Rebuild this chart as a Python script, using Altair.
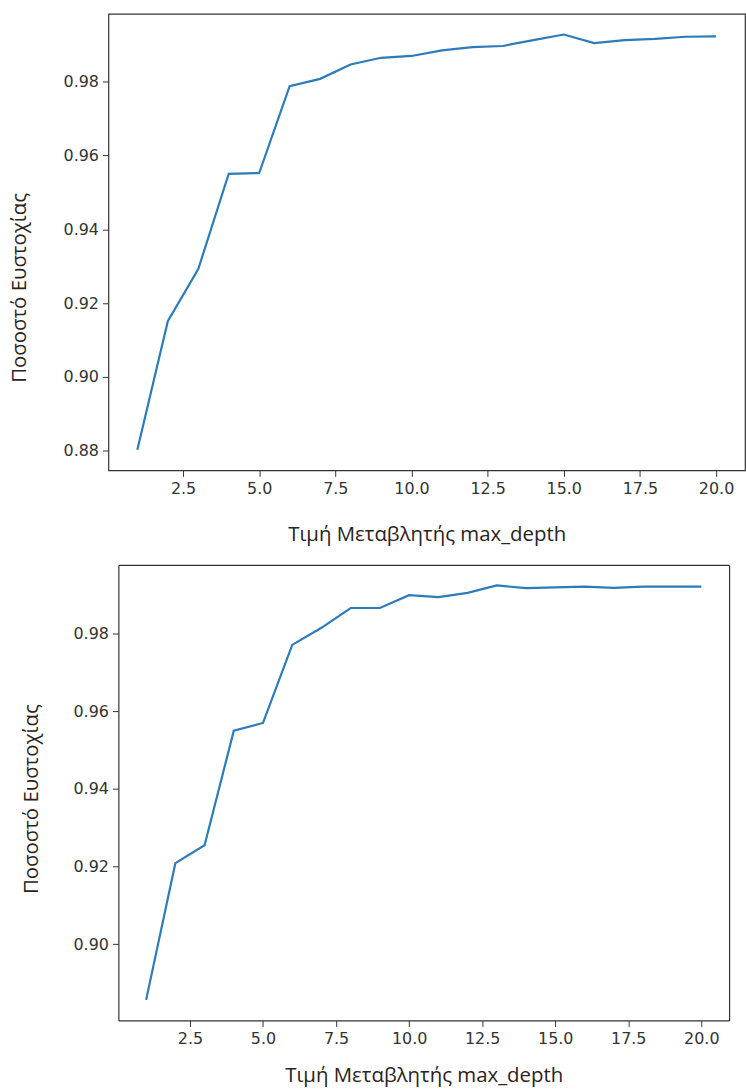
import altair as alt
import pandas as pd

depth = list(range(1, 21))
acc_top = [0.8803, 0.9151, 0.9292, 0.9550, 0.9552, 0.9787, 0.9807, 0.9846, 0.9864, 0.9869,
           0.9884, 0.9893, 0.9896, 0.9912, 0.9927, 0.9904, 0.9912, 0.9915, 0.9921, 0.9922]
acc_bottom = [0.8857, 0.9209, 0.9255, 0.9550, 0.9570, 0.9771, 0.9815, 0.9866, 0.9866, 0.9899,
              0.9894, 0.9905, 0.9924, 0.9917, 0.9919, 0.9921, 0.9918, 0.9921, 0.9921, 0.9921]
x_ticks = [2.5, 5.0, 7.5, 10.0, 12.5, 15.0, 17.5, 20.0]
y_ticks_top = [0.88, 0.90, 0.92, 0.94, 0.96, 0.98]
y_ticks_bottom = [0.90, 0.92, 0.94, 0.96, 0.98]

x_title = "Τιμή Μεταβλητής max_depth"
y_title = "Ποσοστό Ευστοχίας"

TITLE_FONT = "Open Sans"
TITLE_COLOR = "#2a2320"
LINE_COLOR = "#2c7bba"
FRAME = "#333333"
X_DOMAIN = [0.05, 20.95]

# ---------- top panel: plain framed view ----------
df_top = pd.DataFrame({"depth": depth, "acc": acc_top})
top = alt.Chart(df_top).mark_line(color=LINE_COLOR, strokeWidth=2.2).encode(
    x=alt.X("depth:Q",
            scale=alt.Scale(domain=X_DOMAIN, nice=False, zero=False),
            axis=alt.Axis(values=x_ticks, format=".1f", title=x_title, titlePadding=28)),
    y=alt.Y("acc:Q",
            scale=alt.Scale(domain=[0.8747, 0.9983], nice=False, zero=False),
            axis=alt.Axis(values=y_ticks_top, format=".2f", title=y_title,
                          titleX=-89, titleY=275, titleAngle=270,
                          titleAlign="center", titleBaseline="middle")),
).properties(width=640, height=459)

# ---------- bottom panel: its frame starts 10px further right than the top one ----------
df_bot = pd.DataFrame({"depth": depth, "acc": acc_bottom})
W_B, H_B, SHIFT = 624, 458, 10
x_scale_b = alt.Scale(domain=X_DOMAIN, range=[SHIFT, W_B], nice=False, zero=False)
y_scale_b = alt.Scale(domain=[0.8804, 0.9977], nice=False, zero=False)
frame_axis = dict(domain=True, domainColor=FRAME, domainWidth=1.2)

bot_main = alt.Chart(df_bot).mark_line(color=LINE_COLOR, strokeWidth=2.2).encode(
    x=alt.X("depth:Q", scale=x_scale_b,
            axis=alt.Axis(values=x_ticks, format=".1f", title=x_title, titlePadding=19,
                          **frame_axis)),
    y=alt.Y("acc:Q", scale=y_scale_b,
            axis=alt.Axis(values=y_ticks_bottom, format=".2f", title=y_title,
                          offset=-SHIFT, titleX=-87, titleY=235, titleAngle=270,
                          titleAlign="center", titleBaseline="middle", **frame_axis)),
)
bot_frame = alt.Chart(df_bot).mark_line(strokeOpacity=0).encode(
    x=alt.X("depth:Q", scale=x_scale_b,
            axis=alt.Axis(orient="top", labels=False, ticks=False, title=None, **frame_axis)),
    y=alt.Y("acc:Q", scale=y_scale_b,
            axis=alt.Axis(orient="right", labels=False, ticks=False, title=None, **frame_axis)),
)
bottom = alt.layer(bot_main, bot_frame).resolve_axis(
    x="independent", y="independent"
).properties(width=W_B, height=H_B, view=alt.ViewBackground(strokeOpacity=0))

chart = alt.concat(top, bottom, columns=1, spacing=19).properties(
    padding={"left": 9, "top": 10, "right": 0, "bottom": 0}
).configure_view(
    stroke=FRAME, strokeWidth=1.2
).configure_axis(
    domain=False,
    grid=False,
    tickColor=FRAME,
    tickSize=6,
    tickWidth=1,
    labelFont="DejaVu Sans",
    labelFontSize=16,
    labelColor="#333333",
    labelPadding=4,
    titleFont=TITLE_FONT,
    titleFontSize=20.5,
    titleFontWeight="normal",
    titleColor=TITLE_COLOR,
)

chart.save("out.html", embed_options={"renderer": "svg", "actions": False})
